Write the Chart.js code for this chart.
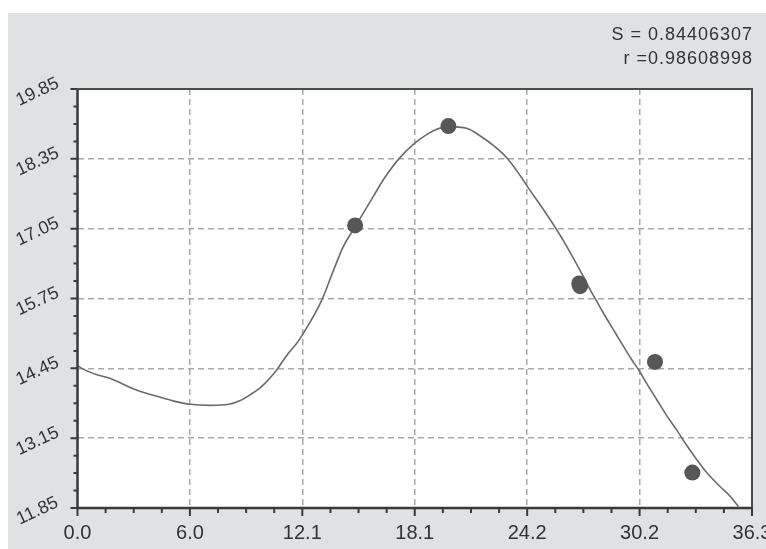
<!DOCTYPE html>
<html>
<head>
<meta charset="utf-8">
<title>Regression fit</title>
<script src="https://cdn.jsdelivr.net/npm/chart.js@4.4.0/dist/chart.umd.min.js"></script>
<style>
  html, body { margin: 0; padding: 0; background: #ffffff; }
  #wrap { width: 766px; height: 549px; position: relative; }
</style>
</head>
<body>
<div id="wrap"><canvas id="chart" width="766" height="549"></canvas></div>
<script>
// Axis ticks and their printed labels
const xTicks = [0, 6.05, 12.1, 18.15, 24.2, 30.25, 36.3];
const xTickLabels = ['0.0', '6.0', '12.1', '18.1', '24.2', '30.2', '36.3'];
const yTicks = [11.85, 13.15, 14.45, 15.75, 17.05, 18.35, 19.65];
const yTickLabels = ['11.85', '13.15', '14.45', '15.75', '17.05', '18.35', '19.85'];

// Measured observations
const obsX = [14.94, 19.96, 27.0, 27.05, 31.08, 33.09];
const obsY = [17.11, 18.96, 16.03, 15.98, 14.57, 12.51];

// Fitted curve
const fitX = [0.0, 0.33, 1.05, 1.77, 2.30, 2.93, 3.56, 4.28, 5.18, 6.07, 7.15, 8.14, 8.76, 9.30,
  9.93, 10.74, 11.28, 11.81, 12.17, 13.16, 13.75, 14.31, 14.84, 15.38,
  15.92, 16.46, 17.27, 18.07, 18.79, 19.33, 19.96, 20.95, 21.66, 22.38, 23.10, 23.82, 24.26,
  24.89, 25.79, 26.33, 27.22, 27.58, 27.94, 28.30, 28.84, 29.38, 29.83, 30.22, 30.63, 31.17,
  31.71, 32.25, 32.70, 33.33, 33.86, 34.58, 35.12, 35.57];
const fitY = [14.50, 14.43, 14.33, 14.26, 14.18, 14.08, 14.00, 13.93, 13.84, 13.78, 13.76, 13.78,
  13.85, 13.96, 14.12, 14.43, 14.70, 14.92, 15.11, 15.73, 16.25, 16.72,
  17.03, 17.34, 17.65, 17.96, 18.34, 18.62, 18.80, 18.90, 18.95, 18.92, 18.78, 18.60, 18.37,
  18.04, 17.81, 17.50, 17.03, 16.72, 16.16, 15.92, 15.70, 15.48, 15.17, 14.86, 14.61, 14.41,
  14.17, 13.87, 13.57, 13.30, 13.06, 12.75, 12.51, 12.25, 12.07, 11.88];

// Fit statistics
const statLines = ['S = 0.84406307', 'r =0.98608998'];

const MINOR_PER_MAJOR = 4;
const TEXT_COLOR = '#333333';
const AXIS_COLOR = '#3a3a3a';

const toPoints = (xs, ys) => xs.map((x, i) => ({ x: x, y: ys[i] }));

const gridColor = (ctx) => {
  const n = ctx.scale.ticks.length;
  return (ctx.index === 0 || ctx.index === n - 1) ? 'rgba(0,0,0,0)' : '#a8a8a8';
};

// Panel background, frame, ticks with minor subdivisions, labels and statistics
const framePlugin = {
  id: 'frame',
  beforeDraw(chart) {
    const { ctx, chartArea: a } = chart;
    ctx.save();
    ctx.fillStyle = '#ffffff';
    ctx.fillRect(0, 0, chart.width, chart.height);
    ctx.fillStyle = '#e0e1e2';
    ctx.fillRect(8, 13, chart.width - 8, chart.height - 13);
    ctx.fillStyle = '#ffffff';
    ctx.fillRect(a.left, a.top, a.right - a.left, a.bottom - a.top);
    ctx.restore();
  },
  afterDraw(chart) {
    const { ctx, chartArea: a } = chart;
    const xs = chart.scales.x, ys = chart.scales.y;
    ctx.save();

    // frame
    ctx.strokeStyle = '#4a4a4a';
    ctx.lineWidth = 2;
    ctx.beginPath();
    ctx.moveTo(a.left, a.top); ctx.lineTo(a.right, a.top); ctx.lineTo(a.right, a.bottom);
    ctx.stroke();
    ctx.strokeStyle = AXIS_COLOR;
    ctx.lineWidth = 2.5;
    ctx.beginPath();
    ctx.moveTo(a.left, a.top); ctx.lineTo(a.left, a.bottom); ctx.lineTo(a.right, a.bottom);
    ctx.stroke();

    // tick marks
    ctx.lineWidth = 2;
    ctx.strokeStyle = AXIS_COLOR;
    ctx.beginPath();
    xTicks.forEach((v, i) => {
      const px = xs.getPixelForValue(v);
      ctx.moveTo(px, a.bottom); ctx.lineTo(px, a.bottom + 8);
      if (i < xTicks.length - 1) {
        const step = (xTicks[i + 1] - v) / MINOR_PER_MAJOR;
        for (let k = 1; k < MINOR_PER_MAJOR; k++) {
          const mx = xs.getPixelForValue(v + k * step);
          ctx.moveTo(mx, a.bottom); ctx.lineTo(mx, a.bottom + 5);
        }
      }
    });
    yTicks.forEach((v, i) => {
      const py = ys.getPixelForValue(v);
      ctx.moveTo(a.left - 7, py); ctx.lineTo(a.left, py);
      if (i < yTicks.length - 1) {
        const step = (yTicks[i + 1] - v) / MINOR_PER_MAJOR;
        for (let k = 1; k < MINOR_PER_MAJOR; k++) {
          const my = ys.getPixelForValue(v + k * step);
          ctx.moveTo(a.left - 4, my); ctx.lineTo(a.left, my);
        }
      }
    });
    ctx.stroke();

    // x labels
    ctx.fillStyle = TEXT_COLOR;
    ctx.font = '20px "Liberation Sans", Arial, sans-serif';
    ctx.textAlign = 'center';
    ctx.textBaseline = 'alphabetic';
    xTicks.forEach((v, i) => {
      ctx.fillText(xTickLabels[i], xs.getPixelForValue(v), a.bottom + 30.5);
    });

    // y labels, slanted
    ctx.font = '18px "Liberation Sans", Arial, sans-serif';
    ctx.textBaseline = 'middle';
    yTicks.forEach((v, i) => {
      const py = ys.getPixelForValue(v);
      ctx.save();
      ctx.translate(a.left - 40, py + 3);
      ctx.rotate(-25 * Math.PI / 180);
      ctx.fillText(yTickLabels[i], 0, 0);
      ctx.restore();
    });

    // statistics
    ctx.font = '18px "Liberation Sans", Arial, sans-serif';
    ctx.textAlign = 'right';
    ctx.textBaseline = 'alphabetic';
    if ('letterSpacing' in ctx) ctx.letterSpacing = '1px';
    ctx.fillText(statLines[0], a.right + 1, 39.5);
    ctx.fillText(statLines[1], a.right + 1, 63.5);
    ctx.restore();
  }
};

new Chart(document.getElementById('chart'), {
  type: 'scatter',
  data: {
    datasets: [
      {
        label: 'Observed',
        data: toPoints(obsX, obsY),
        order: 0,
        pointRadius: 8,
        pointBackgroundColor: '#575757',
        pointBorderWidth: 0,
        showLine: false
      },
      {
        label: 'Fit',
        data: toPoints(fitX, fitY),
        order: 1,
        showLine: true,
        pointRadius: 0,
        borderColor: '#6b6b6b',
        borderWidth: 1.6,
        cubicInterpolationMode: 'monotone',
        fill: false
      }
    ]
  },
  options: {
    responsive: false,
    animation: false,
    events: [],
    devicePixelRatio: 1,
    layout: { padding: { top: 89, right: 14, bottom: 0, left: 7.5 } },
    plugins: { legend: { display: false }, tooltip: { enabled: false } },
    scales: {
      x: {
        type: 'linear',
        min: 0,
        max: 36.3,
        afterBuildTicks: (s) => { s.ticks = xTicks.map(v => ({ value: v })); },
        afterFit: (s) => { s.height = 41; s.paddingLeft = 0; s.paddingRight = 0; },
        ticks: { display: false },
        grid: { color: gridColor, lineWidth: 1.5, drawTicks: false },
        border: { display: false, dash: [6, 4] }
      },
      y: {
        type: 'linear',
        min: 11.85,
        max: 19.65,
        afterBuildTicks: (s) => { s.ticks = yTicks.map(v => ({ value: v })); },
        afterFit: (s) => { s.width = 70; s.paddingTop = 0; s.paddingBottom = 0; },
        ticks: { display: false },
        grid: { color: gridColor, lineWidth: 1.5, drawTicks: false },
        border: { display: false, dash: [6, 4] }
      }
    }
  },
  plugins: [framePlugin]
});
</script>
</body>
</html>
